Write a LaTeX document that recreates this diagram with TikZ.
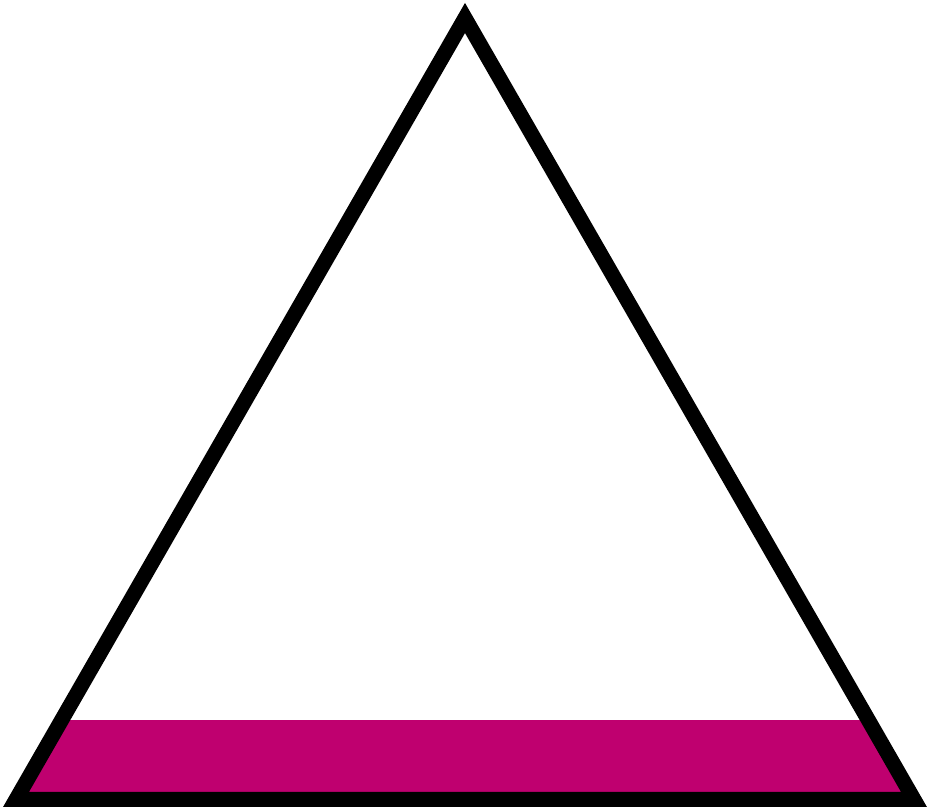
\documentclass[tikz,border=0pt]{standalone}
\usepackage{tkz-euclide}
\definecolor{bandpink}{RGB}{191,0,111}

\begin{document}
\begin{tikzpicture}
            \useasboundingbox (0,0) rectangle (9.31,8.08);
            \tkzDefPoint(0.16,0.085){A}
            \tkzDefPoint(9.14,0.085){B}
            \tkzDefPoint(4.65,7.90){T}
            \tkzDefPoint(0,0){L}
            \tkzDefPoint(9.31,0.88){R}

            \begin{scope}
                \tkzClipPolygon(A,B,T)
                \fill[bandpink] (L) rectangle (R);
            \end{scope}

            \tkzDrawPolygon[line width=0.15cm,line join=miter,black](A,B,T)
        \end{tikzpicture}
\end{document}
